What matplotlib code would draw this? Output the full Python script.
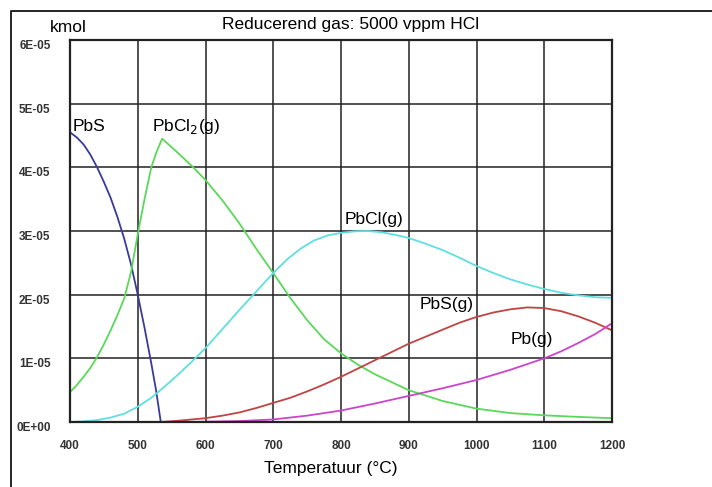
import numpy as np
import matplotlib
matplotlib.use("Agg")
import matplotlib.pyplot as plt
from matplotlib.lines import Line2D

plt.rcParams['font.family'] = ['Liberation Sans', 'DejaVu Sans']

# values (y in units of 1E-05 kmol)
pbs_x = [400, 410, 420, 430, 440, 450, 460, 470, 480, 490, 500, 510, 520, 527, 534]
pbs_y = [4.55, 4.47, 4.36, 4.2, 4.0, 3.77, 3.52, 3.22, 2.88, 2.48, 2.0, 1.48,
         0.92, 0.5, 0.0]

pbcl2_x = [400, 410, 420, 430, 440, 450, 460, 470, 480, 490, 500, 510, 520, 528,
           536, 560, 580, 600, 625, 650, 675, 700, 725, 750, 775, 800, 825, 850,
           900, 950, 1000, 1050, 1100, 1150, 1200]
pbcl2_y = [0.47, 0.58, 0.71, 0.85, 1.02, 1.22, 1.44, 1.68, 1.94, 2.35, 2.95, 3.5,
           4.0, 4.25, 4.45, 4.22, 4.02, 3.8, 3.48, 3.12, 2.72, 2.34, 1.95, 1.6,
           1.3, 1.08, 0.9, 0.75, 0.5, 0.33, 0.21, 0.14, 0.105, 0.08, 0.06]

pbcl_x = [400, 420, 440, 460, 480, 500, 520, 540, 560, 580, 600, 625, 650, 675,
          700, 720, 740, 760, 780, 800, 820, 840, 860, 880, 900, 925, 950, 975,
          1000, 1025, 1050, 1075, 1100, 1125, 1150, 1175, 1200]
pbcl_y = [0.0, 0.01, 0.03, 0.07, 0.13, 0.24, 0.38, 0.56, 0.75, 0.95, 1.16, 1.46,
          1.76, 2.05, 2.34, 2.55, 2.72, 2.85, 2.93, 2.97, 2.995, 3.0, 2.98, 2.94,
          2.89, 2.8, 2.7, 2.58, 2.45, 2.34, 2.24, 2.16, 2.09, 2.03, 1.99, 1.96, 1.95]

pbsg_x = [534, 560, 580, 600, 625, 650, 675, 700, 725, 750, 775, 800, 825, 850,
          875, 900, 925, 950, 975, 1000, 1025, 1050, 1075, 1100, 1125, 1150,
          1175, 1200]
pbsg_y = [0.0, 0.02, 0.04, 0.06, 0.1, 0.15, 0.22, 0.3, 0.38, 0.48, 0.59, 0.71,
          0.84, 0.97, 1.1, 1.23, 1.34, 1.45, 1.56, 1.65, 1.72, 1.77, 1.8, 1.79,
          1.74, 1.66, 1.56, 1.44]

pbg_x = [534, 575, 600, 650, 700, 750, 800, 850, 900, 950, 1000, 1050, 1100,
         1125, 1150, 1175, 1200]
pbg_y = [0.0, 0.0, 0.005, 0.015, 0.04, 0.1, 0.18, 0.29, 0.41, 0.53, 0.66, 0.82,
         1.0, 1.11, 1.24, 1.38, 1.55]

x_ticks = [400, 500, 600, 700, 800, 900, 1000, 1100, 1200]
y_ticks = [0, 1e-5, 2e-5, 3e-5, 4e-5, 5e-5, 6e-5]
y_tick_labels = ["0E+00", "1E-05", "2E-05", "3E-05", "4E-05", "5E-05", "6E-05"]

scale = 1e-5

fig = plt.figure(figsize=(7.12, 4.87), dpi=100)
ax = fig.add_axes([70 / 712, 1 - 422 / 487, (612 - 70) / 712, (422 - 40) / 487])

lw = 1.3
ax.plot(pbs_x, np.array(pbs_y) * scale, color="#3a3a9c", lw=lw)
ax.plot(pbcl2_x, np.array(pbcl2_y) * scale, color="#5ad85a", lw=lw)
ax.plot(pbcl_x, np.array(pbcl_y) * scale, color="#5ee0e0", lw=lw)
ax.plot(pbsg_x, np.array(pbsg_y) * scale, color="#c04444", lw=lw)
ax.plot(pbg_x, np.array(pbg_y) * scale, color="#cc44cc", lw=lw)

ax.set_xlim(400, 1200)
ax.set_ylim(0, 6e-5)
ax.set_xticks(x_ticks)
ax.set_yticks(y_ticks)
ax.set_yticklabels(y_tick_labels)
ax.grid(True, color="#222222", lw=1.1)
ax.set_axisbelow(True)
ax.tick_params(length=0, labelsize=8.5, labelcolor="#333333")
ax.tick_params(axis="x", pad=13)
ax.tick_params(axis="y", pad=14)
for lab in ax.get_xticklabels() + ax.get_yticklabels():
    lab.set_fontweight("bold")
for lab in ax.get_yticklabels():
    lab.set_va("top")
for s in ax.spines.values():
    s.set_color("#222222")
    s.set_linewidth(1.6)

# curve labels
fs = 12.5
ax.text(428, 4.64 * scale, "PbS", fontsize=fs, ha="center", va="center")
ax.text(521, 4.64 * scale, "PbCl$_2$(g)", fontsize=fs, ha="left", va="center")
ax.text(806, 3.18 * scale, "PbCl(g)", fontsize=fs, ha="left", va="center")
ax.text(916, 1.84 * scale, "PbS(g)", fontsize=fs, ha="left", va="center")
ax.text(1050, 1.29 * scale, "Pb(g)", fontsize=fs, ha="left", va="center")

fig.text(68 / 712, 1 - 27 / 487, "kmol", fontsize=12.5, ha="center", va="center")
fig.text(351 / 712, 1 - 25 / 487, "Reducerend gas: 5000 vppm HCl", fontsize=12.5,
         ha="center", va="center")
fig.text(331 / 712, 1 - 468 / 487, "Temperatuur (°C)", fontsize=12.5,
         ha="center", va="center")

# outer frame (left and top edges)
fig.add_artist(Line2D([11 / 712, 11 / 712, 1.0], [0.0, 1 - 11 / 487, 1 - 11 / 487],
                      transform=fig.transFigure, color="black", lw=1.2))

fig.savefig("out.png", dpi=100)
